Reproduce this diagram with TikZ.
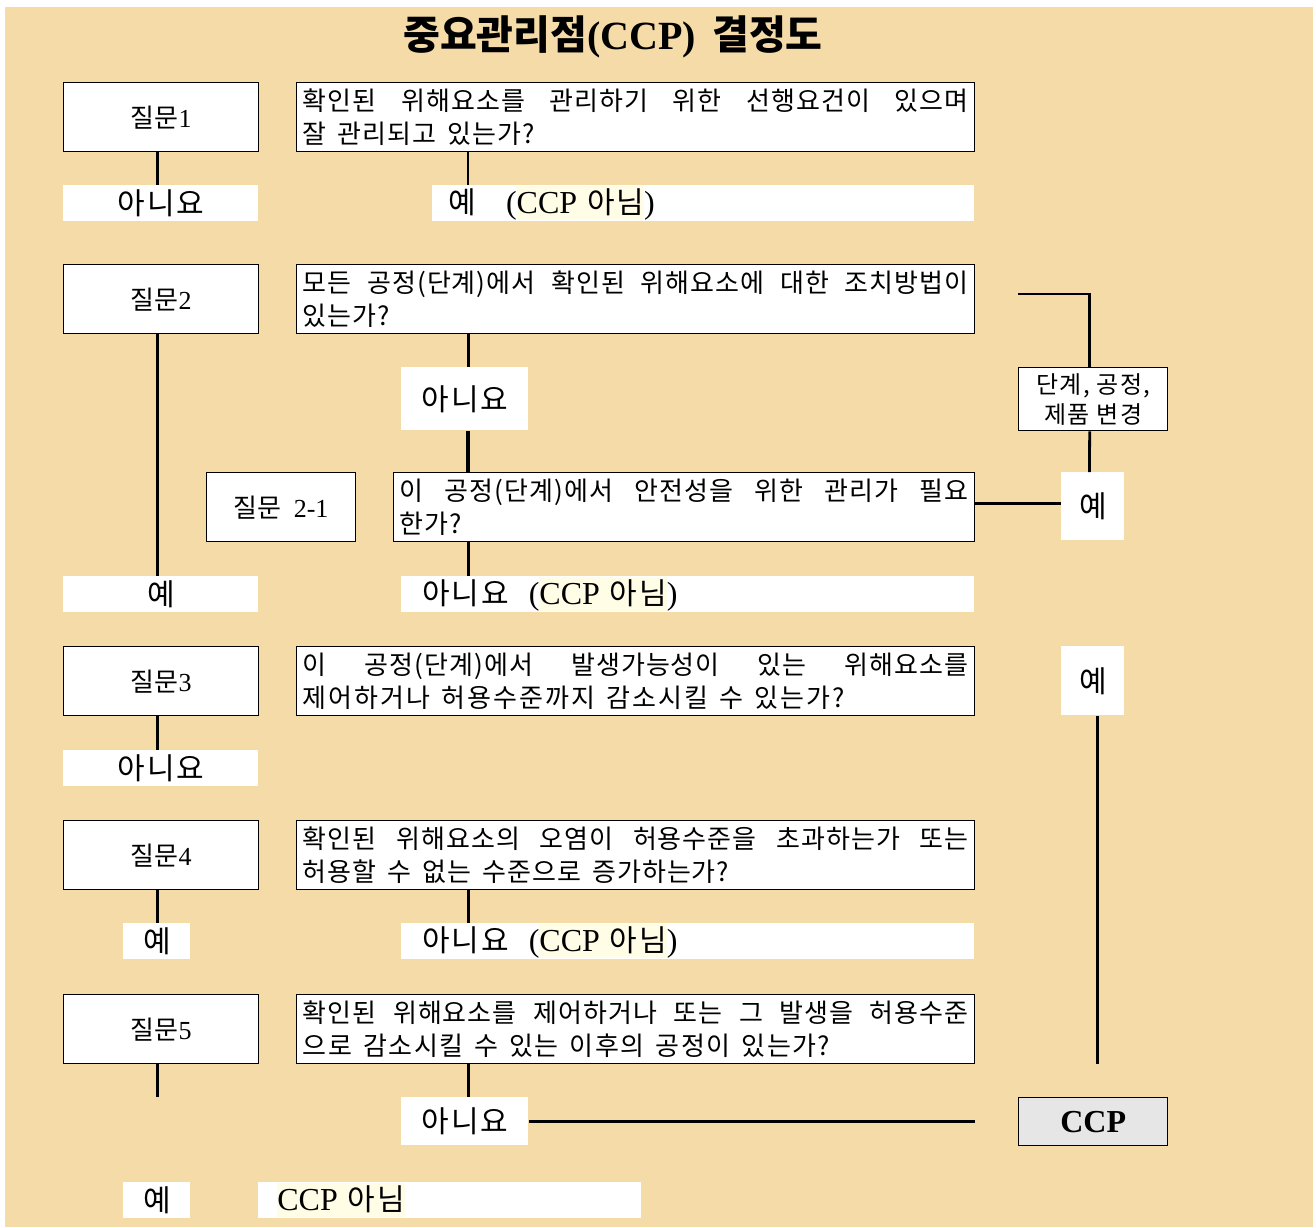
\documentclass[tikz,border=0pt]{standalone}
\usepackage{fontspec}
\setmainfont{Liberation Serif}
\newfontfamily\kr{Noto Sans CJK KR}
\newfontfamily\krq{Noto Sans CJK KR}[LetterSpace=4]
\newfontfamily\krs{Noto Sans CJK KR}[LetterSpace=6]
\usetikzlibrary{calc}
\definecolor{bg}{RGB}{245,219,168}
\definecolor{hl}{RGB}{255,253,230}
\definecolor{ccpgray}{RGB}{230,230,230}
\newcommand\hlx[1]{{\setlength{\fboxsep}{0pt}\colorbox{hl}{\rule[-3.5pt]{0pt}{17pt}#1}}}
\newcommand\jline[1]{\makebox[\linewidth][s]{#1}}
\newcommand\lat{\rmfamily\fontsize{16}{18}\selectfont}
\newcommand\krl{\krs\fontsize{15}{17}\selectfont}
\newcommand\qsp{\spaceskip=5.5pt plus 20pt\relax}
\begin{document}
\begin{tikzpicture}[x=0.5pt,y=-0.5pt,
  qbox/.style={draw=black, line width=0.7pt, fill=white, anchor=north west, inner sep=0pt,
    minimum width=97.5pt, minimum height=34.5pt, font=\fontsize{13}{15}\selectfont},
  tbox/.style={draw=black, line width=0.7pt, fill=white, anchor=north west, inner xsep=3pt,
    inner ysep=0pt, minimum height=34.5pt, align=left, text width=333pt,
    font=\krq\fontsize{13}{16.5}\selectfont},
  lab/.style={fill=white, anchor=north west, inner sep=0pt, font=\krl},
  llab/.style={lab, align=left, minimum height=18pt},
  conn/.style={line width=1.4pt},
]
\useasboundingbox (0,0) rectangle (1316,1227);
\fill[white] (0,0) rectangle (1316,1227);
\fill[bg] (5,7) rectangle (1313,1227);

% title
\node[font=\bfseries\fontsize{20}{23}\selectfont] (title) at (613,37)
  {{\kr\bfseries 중요관리점}(CCP)\hspace{8pt}{\kr\bfseries 결정도}};

% question 1
\node[qbox] (q1) at (63,82) {{\kr 질문}1};
\node[tbox] (q1t) at (296,82)
  {\qsp\jline{확인된 위해요소를 관리하기 위한 선행요건이 있으며}\\잘 관리되고 있는가?};
\node[lab, minimum width=97.5pt, minimum height=18pt] (l1n) at (63,185) {아니요};
\node[llab, text width=271pt] (l1y) at (432,185)
  {\hspace*{8pt}{\krl 예}\hspace{15pt}{\lat(\hlx{CCP {\krl 아님}})}};

% question 2
\node[qbox] (q2) at (63,264) {{\kr 질문}2};
\node[tbox] (q2t) at (296,264)
  {\qsp\jline{모든 공정(단계)에서 확인된 위해요소에 대한 조치방법이}\\있는가?};
\node[lab, minimum width=63.5pt, minimum height=31.5pt] (l2n) at (401,367) {아니요};
\node[draw=black, line width=0.7pt, fill=white, anchor=north west, inner sep=0pt,
  minimum width=74.5pt, minimum height=31.5pt, align=center,
  font=\krs\fontsize{12}{15}\selectfont] (chg) at (1018,367) {단계, 공정,\\제품 변경};
\coordinate (c2) at (1018,294);

% question 2-1
\node[qbox, minimum width=74.5pt] (q21) at (206,472) {{\kr 질문}\hspace{6pt}2-1};
\node[tbox, text width=284.5pt] (q21t) at (393,472)
  {\qsp\jline{이 공정(단계)에서 안전성을 위한 관리가 필요}\\한가?};
\node[lab, minimum width=31.5pt, minimum height=34pt] (y21) at (1061,472) {예};
\node[lab, minimum width=97.5pt, minimum height=18pt] (l2y) at (63,576) {예};
\node[llab, text width=286.5pt] (l21n) at (401,576)
  {\hspace*{10.5pt}{\krl 아니요}\hspace{10pt}{\lat(\hlx{CCP {\krl 아님}})}};

% question 3
\node[qbox] (q3) at (63,646) {{\kr 질문}3};
\node[tbox] (q3t) at (296,646)
  {\qsp\jline{이 공정(단계)에서 발생가능성이 있는 위해요소를}\\{\addfontfeature{LetterSpace=8}제어하거나 허용수준까지 감소시킬 수 있는가?}};
\node[lab, minimum width=31.5pt, minimum height=34.5pt] (y3) at (1061,646) {예};
\node[lab, minimum width=97.5pt, minimum height=18pt] (l3n) at (63,750) {아니요};

% question 4
\node[qbox] (q4) at (63,820) {{\kr 질문}4};
\node[tbox] (q4t) at (296,820)
  {\qsp\jline{확인된 위해요소의 오염이 허용수준을 초과하는가 또는}\\허용할 수 없는 수준으로 증가하는가?};
\node[lab, minimum width=33.5pt, minimum height=18pt] (l4y) at (123,923) {예};
\node[llab, text width=286.5pt] (l4n) at (401,923)
  {\hspace*{10.5pt}{\krl 아니요}\hspace{10pt}{\lat(\hlx{CCP {\krl 아님}})}};

% question 5
\node[qbox] (q5) at (63,994) {{\kr 질문}5};
\node[tbox] (q5t) at (296,994)
  {\qsp\jline{확인된 위해요소를 제어하거나 또는 그 발생을 허용수준}\\{\addfontfeature{LetterSpace=6}으로 감소시킬 수 있는 이후의 공정이 있는가?}};
\node[lab, minimum width=63.5pt, minimum height=24pt] (l5n) at (401,1097) {아니요};
\node[draw=black, line width=0.7pt, fill=ccpgray, anchor=north west, inner sep=0pt,
  minimum width=74.5pt, minimum height=24pt,
  font=\bfseries\fontsize{16}{18}\selectfont] (ccp) at (1018,1097) {CCP};
\node[lab, minimum width=33.5pt, minimum height=18pt] (l5y) at (123,1182) {예};
\node[llab, text width=191.5pt] (nccp) at (258,1182)
  {\hspace*{9.5pt}{\lat\hlx{CCP {\krl 아님}}}};

% connectors
\draw[conn] ([xshift=-1.75pt]q1.south) -- ([xshift=-1.75pt]q1.south |- l1n.north);
\draw[conn] ([xshift=86pt]q1t.south west) -- ([xshift=86pt]q1t.south west |- l1y.north);
\draw[conn] ([xshift=-1.75pt]q2.south) -- ([xshift=-1.75pt]q2.south |- l2y.north);
\draw[conn] ([xshift=1.75pt]l2n.north |- q2t.south) -- ([xshift=1.75pt]l2n.north);
\draw[line width=2pt] ([xshift=1.75pt]l2n.south) -- ([xshift=1.75pt]l2n.south |- q21t.north);
\draw[conn] ([xshift=1.75pt]l2n.south |- q21t.south) -- ([xshift=1.75pt]l2n.south |- l21n.north);
\draw[conn] ([yshift=2pt]q21t.east) -- ([yshift=2pt]q21t.east -| y21.west);
\draw[conn] ([xshift=-1.75pt]y21.north) -- ([xshift=-1.75pt]chg.south);
\draw[conn] ([xshift=-1.75pt]chg.north) |- (c2);
\draw[conn] ([xshift=2.25pt]y3.south) -- ([xshift=2.25pt]y3.south |- q5t.south);
\draw[conn] ([xshift=-1.75pt]q3.south) -- ([xshift=-1.75pt]q3.south |- l3n.north);
\draw[conn] ([xshift=-1.75pt]q4.south) -- ([xshift=-1.75pt]q4.south |- l4y.north);
\draw[conn] ([xshift=1.75pt]l2n.north |- q4t.south) -- ([xshift=1.75pt]l2n.north |- l4n.north);
\draw[conn] ([xshift=-1.75pt]q5.south) -- ([xshift=-1.75pt]q5.south |- l5n.north);
\draw[conn] ([xshift=1.75pt]l5n.north |- q5t.south) -- ([xshift=1.75pt]l5n.north);
\draw[conn] (l5n.east) -- (l5n.east -| q5t.east);
\end{tikzpicture}
\end{document}
